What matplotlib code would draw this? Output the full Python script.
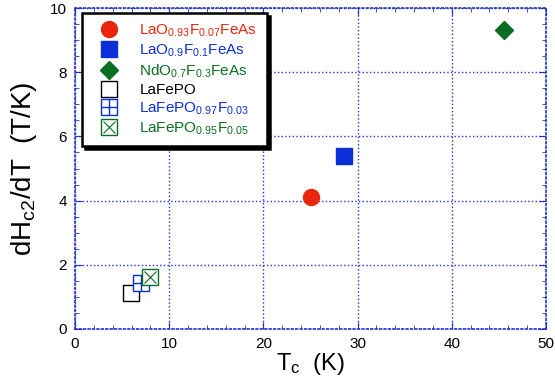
import matplotlib
matplotlib.use("Agg")
import matplotlib.pyplot as plt
from matplotlib.ticker import MultipleLocator

plt.rcParams['font.family'] = ['Liberation Sans', 'DejaVu Sans']
plt.rcParams['mathtext.fontset'] = 'custom'
plt.rcParams['mathtext.rm'] = 'Liberation Sans'
plt.rcParams['mathtext.it'] = 'Liberation Sans'
plt.rcParams['mathtext.default'] = 'regular'

# data
labels = [r'LaO$_{0.93}$F$_{0.07}$FeAs', r'LaO$_{0.9}$F$_{0.1}$FeAs',
          r'NdO$_{0.7}$F$_{0.3}$FeAs', 'LaFePO',
          r'LaFePO$_{0.97}$F$_{0.03}$', r'LaFePO$_{0.95}$F$_{0.05}$']
tc = [25.0, 28.6, 45.5, 5.9, 7.0, 8.0]
slope = [4.1, 5.4, 9.3, 1.12, 1.43, 1.62]
colors = ['#e8260c', '#0a2ed8', '#0a6e22', 'black', '#0a2ed8', '#0a6e22']

blue = '#2233cc'

fig = plt.figure(figsize=(5.55, 3.92), dpi=100)
ax = fig.add_axes([75/555, 1-329/392, 471/555, 321/392])

handles = []
h, = ax.plot(tc[0], slope[0], 'o', ms=11.5, color=colors[0], ls='none')
handles.append(h)
h, = ax.plot(tc[1], slope[1], 's', ms=11.5, color=colors[1], ls='none')
handles.append(h)
h, = ax.plot(tc[2], slope[2], 'D', ms=9.5, color=colors[2], ls='none')
handles.append(h)
h, = ax.plot(tc[3], slope[3], 's', ms=12, mfc='white', mec=colors[3], mew=1.0, ls='none')
handles.append(h)
h1, = ax.plot(tc[4], slope[4], 's', ms=12, mfc='white', mec=colors[4], mew=1.0, ls='none')
h2, = ax.plot(tc[4], slope[4], '+', ms=12, mec=colors[4], mew=1.0, ls='none')
handles.append((h1, h2))
h1, = ax.plot(tc[5], slope[5], 's', ms=12, mfc='white', mec=colors[5], mew=1.0, ls='none')
h2, = ax.plot(tc[5], slope[5], 'x', ms=8.5, mec=colors[5], mew=0.8, ls='none')
handles.append((h1, h2))

ax.set_xlim(0, 50)
ax.set_ylim(0, 10)
ax.xaxis.set_major_locator(MultipleLocator(10))
ax.xaxis.set_minor_locator(MultipleLocator(2))
ax.yaxis.set_major_locator(MultipleLocator(2))
ax.yaxis.set_minor_locator(MultipleLocator(0.5))
ax.tick_params(which='both', direction='in', top=True, right=True, color=blue,
               labelsize=11, pad=6)
ax.tick_params(which='major', length=5)
ax.tick_params(which='minor', length=3)
ax.grid(True, which='major', color=blue, ls=':', lw=1.0)
for s in ax.spines.values():
    s.set_color(blue)
    s.set_linestyle(':')
    s.set_linewidth(1.2)

ax.set_xlabel(r'T$_c$  (K)', fontsize=17, labelpad=0)
ax.set_ylabel(r'dH$_{c2}$/dT  (T/K)', fontsize=20, labelpad=8)

leg = ax.legend(handles, labels, loc='upper left', bbox_to_anchor=(0.015, 0.985),
                fontsize=11, frameon=True, fancybox=False, shadow={'color': 'black', 'alpha': 1},
                borderpad=0.65, labelspacing=0.22, handletextpad=0.9, borderaxespad=0,
                handlelength=2.2)
leg.get_frame().set_edgecolor('black')
leg.get_frame().set_linewidth(1.8)
for t, c in zip(leg.get_texts(), colors):
    t.set_color(c)

fig.savefig('out.png', dpi=100)
